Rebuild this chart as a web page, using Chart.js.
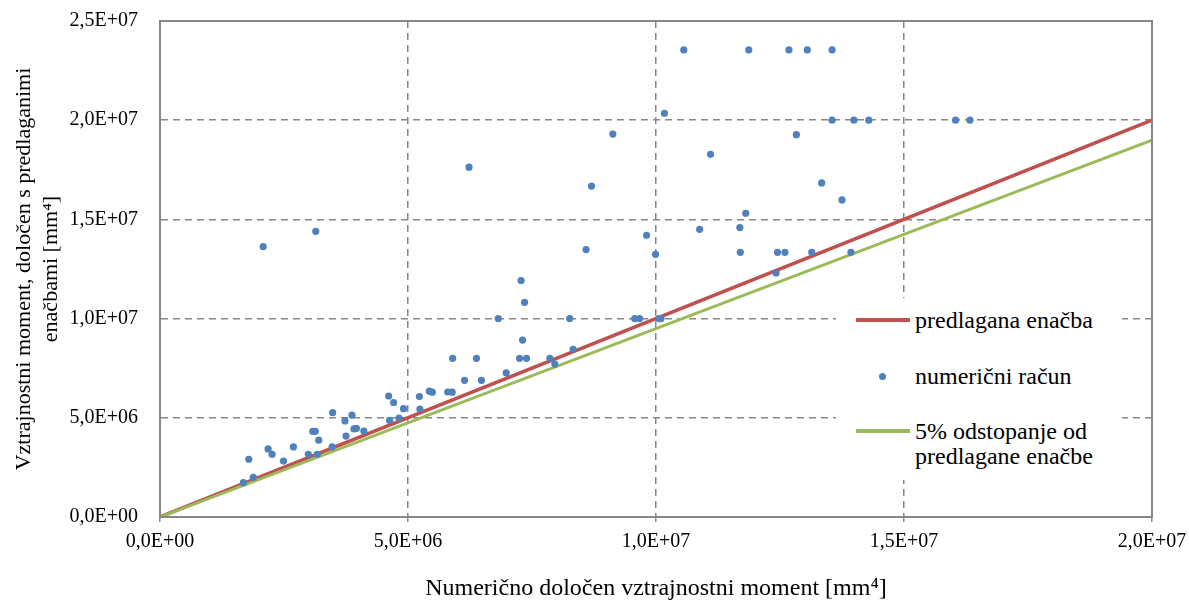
<!DOCTYPE html>
<html>
<head>
<meta charset="utf-8">
<script src="https://cdn.jsdelivr.net/npm/chart.js@4.4.1/dist/chart.umd.min.js"></script>
<style>
  body { margin: 0; background: #fff; }
  #wrap { position: relative; width: 1189px; height: 603px; }
  #legenda {
    position: absolute; left: 836px; top: 298px; width: 286px; height: 182px;
    background: #fff; font-family: "Liberation Serif", Tinos, "DejaVu Serif", serif;
    font-size: 24px; color: #000;
  }
  .item { position: absolute; left: 20px; }
  .crta { position: absolute; left: 0; width: 54px; height: 4px; }
  .pika { position: absolute; left: 23px; width: 7px; height: 7px; border-radius: 50%; background: #4f81bd; }
  .txt { position: absolute; left: 59px; white-space: nowrap; line-height: 25px; }
</style>
</head>
<body>
<div id="wrap">
  <canvas id="graf" width="1189" height="603"></canvas>
  <div id="legenda">
    <div class="item" style="top:10px">
      <div class="crta" style="top:10px;background:#c0504d"></div>
      <div class="txt" style="top:0">predlagana enačba</div>
    </div>
    <div class="item" style="top:66px">
      <div class="pika" style="top:9px"></div>
      <div class="txt" style="top:0">numerični račun</div>
    </div>
    <div class="item" style="top:121px">
      <div class="crta" style="top:10px;background:#9bbb59"></div>
      <div class="txt" style="top:0">5% odstopanje od<br>predlagane enačbe</div>
    </div>
  </div>
</div>
<script>
// numerični račun: x = numerično določen moment, y = moment po predlaganih enačbah
const numX = [
  1.68e6, 1.79e6, 1.88e6, 2.08e6, 2.18e6, 2.26e6, 2.49e6, 2.69e6, 2.99e6, 3.08e6,
  3.13e6, 3.14e6, 3.17e6, 3.20e6, 3.47e6, 3.48e6, 3.73e6, 3.75e6, 3.87e6, 3.91e6,
  3.96e6, 4.11e6, 4.61e6, 4.63e6, 4.71e6, 4.82e6, 4.91e6, 5.23e6, 5.24e6, 5.43e6,
  5.49e6, 5.80e6, 5.89e6, 5.90e6, 6.14e6, 6.23e6, 6.38e6, 6.48e6, 6.82e6, 6.98e6,
  7.25e6, 7.28e6, 7.31e6, 7.35e6, 7.39e6, 7.86e6, 7.96e6, 8.26e6, 8.33e6, 8.59e6,
  8.70e6, 9.13e6, 9.57e6, 9.67e6, 9.81e6, 9.99e6, 10.06e6, 10.10e6, 10.17e6, 10.56e6,
  10.88e6, 11.10e6, 11.69e6, 11.70e6, 11.81e6, 11.87e6, 12.42e6, 12.45e6, 12.60e6, 12.68e6,
  12.83e6, 13.05e6, 13.14e6, 13.34e6, 13.55e6, 13.55e6, 13.75e6, 13.93e6, 13.99e6, 14.29e6,
  16.04e6, 16.33e6
];
const numY = [
  1.73e6, 2.91e6, 2.00e6, 13.63e6, 3.43e6, 3.16e6, 2.82e6, 3.53e6, 3.16e6, 4.32e6,
  4.32e6, 14.40e6, 3.16e6, 3.87e6, 3.53e6, 5.26e6, 4.84e6, 4.08e6, 5.13e6, 4.44e6,
  4.47e6, 4.33e6, 6.10e6, 4.87e6, 5.77e6, 4.99e6, 5.46e6, 6.07e6, 5.44e6, 6.34e6,
  6.29e6, 6.30e6, 6.29e6, 8.00e6, 6.89e6, 17.63e6, 8.00e6, 6.89e6, 10.00e6, 7.26e6,
  8.00e6, 11.92e6, 8.92e6, 10.82e6, 8.00e6, 8.00e6, 7.71e6, 10.00e6, 8.45e6, 13.48e6,
  16.68e6, 19.30e6, 10.00e6, 10.00e6, 14.20e6, 13.24e6, 10.00e6, 10.00e6, 20.35e6, 23.54e6,
  14.50e6, 18.28e6, 14.59e6, 13.34e6, 15.31e6, 23.54e6, 12.30e6, 13.34e6, 13.34e6, 23.54e6,
  19.27e6, 23.54e6, 13.34e6, 16.84e6, 23.54e6, 20.00e6, 15.98e6, 13.34e6, 20.00e6, 20.00e6,
  20.00e6, 20.00e6
];

// premici: predlagana enačba in 5% odstopanje
const premicaX = [0, 2.0e7];
const predlaganaY = [0, 2.0e7];
const odstopanjeY = [0, 1.9e7];

const osX = { min: 0, max: 2.0e7, korak: 5.0e6 };
const osY = { min: 0, max: 2.5e7, korak: 5.0e6 };

const pisava = '"Liberation Serif", Tinos, "DejaVu Serif", serif';
const siva = '#878787';

function tocke(xs, ys) {
  return xs.map((x, i) => ({ x: x, y: ys[i] }));
}

// oznake v obliki 2,5E+07
function oznaka(v) {
  if (v === 0) return '0,0E+00';
  const e = Math.floor(Math.log10(v) + 1e-9);
  const m = v / Math.pow(10, e);
  return m.toFixed(1).replace('.', ',') + 'E+' + String(e).padStart(2, '0');
}

// okvir okoli risalne površine
const okvir = {
  id: 'okvir',
  afterDraw(chart) {
    const a = chart.chartArea;
    const ctx = chart.ctx;
    ctx.save();
    ctx.strokeStyle = siva;
    ctx.lineWidth = 2;
    ctx.strokeRect(a.left, a.top, a.right - a.left, a.bottom - a.top);
    ctx.restore();
  }
};

const ctx = document.getElementById('graf').getContext('2d');
new Chart(ctx, {
  type: 'scatter',
  data: {
    datasets: [
      {
        label: 'numerični račun',
        data: tocke(numX, numY),
        backgroundColor: '#4f81bd',
        borderColor: '#4f81bd',
        pointRadius: 3.6,
        pointBorderWidth: 0,
        order: 0
      },
      {
        label: 'predlagana enačba',
        data: tocke(premicaX, predlaganaY),
        showLine: true,
        borderColor: '#c0504d',
        borderWidth: 3.5,
        pointRadius: 0,
        order: 2
      },
      {
        label: '5% odstopanje od predlagane enačbe',
        data: tocke(premicaX, odstopanjeY),
        showLine: true,
        borderColor: '#9bbb59',
        borderWidth: 3,
        pointRadius: 0,
        order: 1
      }
    ]
  },
  options: {
    responsive: false,
    animation: false,
    layout: { padding: { left: 0, right: 37, top: 21, bottom: 0 } },
    plugins: {
      legend: { display: false },
      tooltip: { enabled: false }
    },
    scales: {
      x: {
        type: 'linear',
        min: osX.min,
        max: osX.max,
        afterFit(scale) {
          scale.height = 86;
          // oznaki na robu ne smeta ožati risalne površine
          scale.paddingLeft = 20;
          scale.paddingRight = 20;
        },
        ticks: {
          stepSize: osX.korak,
          callback: oznaka,
          color: '#000',
          font: { family: pisava, size: 20 },
          padding: 8,
          maxRotation: 0
        },
        grid: {
          color: siva,
          lineWidth: 1.5,
          tickLength: 5,
          tickColor: siva,
          tickBorderDash: [],
          tickWidth: 1.5
        },
        border: { color: siva, width: 2, dash: [7, 5] },
        title: {
          display: true,
          text: 'Numerično določen vztrajnostni moment [mm⁴]',
          color: '#000',
          font: { family: pisava, size: 24 },
          padding: { top: 0, bottom: 0 }
        }
      },
      y: {
        type: 'linear',
        min: osY.min,
        max: osY.max,
        afterFit(scale) {
          scale.width = 160;
          scale.paddingTop = 12;
          scale.paddingBottom = 12;
        },
        ticks: {
          stepSize: osY.korak,
          callback: oznaka,
          color: '#000',
          font: { family: pisava, size: 20 },
          padding: 22
        },
        grid: {
          color: siva,
          lineWidth: 1.5,
          drawTicks: false
        },
        border: { color: siva, width: 2, dash: [7, 5] },
        title: {
          display: true,
          text: ['Vztrajnostni moment, določen s predlaganimi', 'enačbami [mm⁴]'],
          color: '#000',
          font: { family: pisava, size: 22, lineHeight: 1.23 },
          padding: { top: 11, bottom: 0 }
        }
      }
    }
  },
  plugins: [okvir]
});
</script>
</body>
</html>
